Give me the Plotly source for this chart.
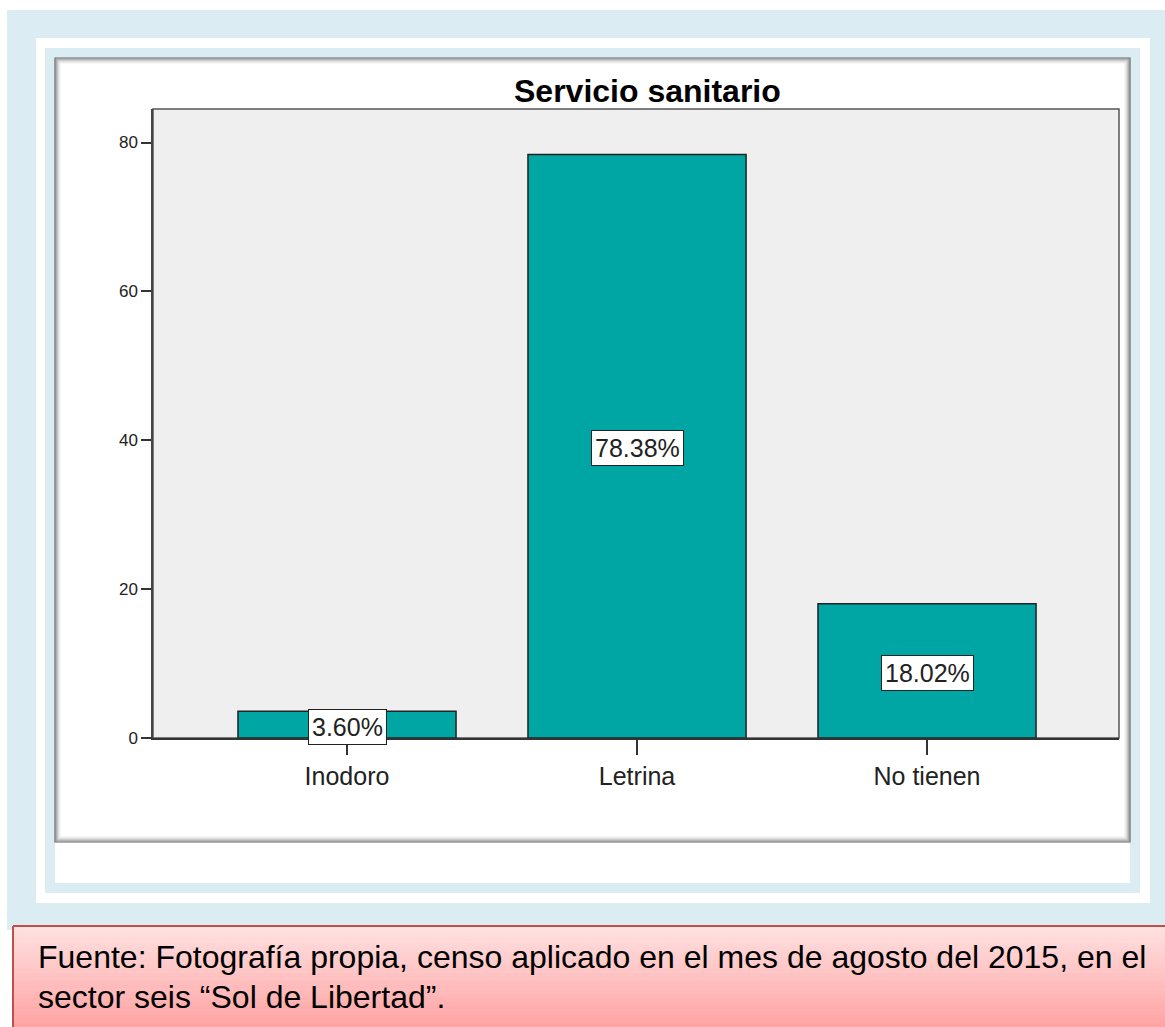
import plotly.graph_objects as go

categories = ["Inodoro", "Letrina", "No tienen"]
percentages = [3.60, 78.38, 18.02]
y_ticks = [0, 20, 40, 60, 80]
title_text = "Servicio sanitario"
source_lines = [
    "Fuente: Fotografía propia, censo aplicado en el mes de agosto del 2015, en el",
    "sector seis “Sol de Libertad”.",
]

W, H = 1165, 1027
# plot area in page pixels
PL, PR, PT, PB = 153, 1119, 109, 738
FONT = "Liberation Sans, Arial, sans-serif"
BAR_COLOR = "#00a6a4"
LIGHT_BLUE = "#dbecf2"


def px(x):
    return (x - PL) / (PR - PL)


def py(y):
    return (PB - y) / (PB - PT)


def rect(x0, y0, x1, y1, fill=None, line=None, width=0):
    return dict(
        type="rect", xref="paper", yref="paper", layer="below",
        x0=px(x0), x1=px(x1), y0=py(y1), y1=py(y0),
        fillcolor=fill or "rgba(0,0,0,0)",
        line=dict(color=line or "rgba(0,0,0,0)", width=width),
    )


shapes = [
    rect(7, 10, W, 930, fill=LIGHT_BLUE),
    rect(36, 38, 1150, 903, fill="white"),
    rect(45, 48, 1140, 893, fill=LIGHT_BLUE),
    rect(55, 58, 1130, 883, fill="white"),
]
# inner shadow of the chart frame
for i, c in enumerate(["#666", "#888", "#a8a8a8", "#c4c4c4", "#dcdcdc", "#eeeeee"]):
    shapes.append(rect(55 + i, 58 + i, 1130 - i, 842 - i, line=c, width=1.2))

# plot area background
shapes.append(rect(PL, PT, PR, PB, fill="#efefef", line="#555", width=1.5))

# pink source box with vertical gradient
n_bands = 24
top_rgb, bot_rgb = (255, 224, 224), (255, 164, 164)
for i in range(n_bands):
    t = i / (n_bands - 1)
    c = tuple(round(a + (b - a) * t) for a, b in zip(top_rgb, bot_rgb))
    y0 = 926 + (1027 - 926) * i / n_bands
    y1 = 926 + (1027 - 926) * (i + 1) / n_bands + 0.5
    shapes.append(rect(13, y0, W, y1, fill="rgb(%d,%d,%d)" % c))
shapes.append(dict(type="line", xref="paper", yref="paper", layer="below",
                   x0=px(13), x1=px(W), y0=py(926), y1=py(926),
                   line=dict(color="#c0504d", width=2)))
shapes.append(dict(type="line", xref="paper", yref="paper", layer="below",
                   x0=px(13), x1=px(13), y0=py(926), y1=py(1030),
                   line=dict(color="#c0504d", width=2)))

fig = go.Figure(go.Bar(
    x=categories, y=percentages,
    width=0.752,
    marker=dict(color=BAR_COLOR, line=dict(color="#222", width=1.5)),
    hoverinfo="skip",
))

annotations = [
    dict(x=px(647), y=py(91), xref="paper", yref="paper", text=f"<b>{title_text}</b>",
         showarrow=False, font=dict(family=FONT, size=32, color="black"),
         xanchor="center", yanchor="middle"),
]
for cat, v in zip(categories, percentages):
    annotations.append(dict(
        x=cat, y=v / 2, xref="x", yref="y", text=f"{v:.2f}%", showarrow=False,
        yshift=-2, bgcolor="white", bordercolor="#222", borderwidth=1, borderpad=3,
        font=dict(family=FONT, size=25, color="#222"),
    ))
for i, line in enumerate(source_lines):
    annotations.append(dict(
        x=px(36), y=py(957 + 40 * i), xref="paper", yref="paper", text=line,
        showarrow=False, xanchor="left", yanchor="middle",
        font=dict(family=FONT, size=32, color="black"),
    ))

fig.update_layout(
    width=W, height=H,
    margin=dict(l=PL, r=W - PR, t=PT, b=H - PB, pad=0),
    paper_bgcolor="white", plot_bgcolor="rgba(0,0,0,0)",
    showlegend=False, shapes=shapes, annotations=annotations,
    font=dict(family=FONT, color="#222"),
)
fig.update_xaxes(
    range=[-0.669, 2.662], showgrid=False, zeroline=False,
    showline=True, linecolor="#333", linewidth=1.5,
    ticks="outside", ticklen=15, tickwidth=1.5, tickcolor="#333",
    tickfont=dict(family=FONT, size=25, color="#222"),
)
fig.update_yaxes(
    range=[0, 84.5], tickvals=y_ticks, showgrid=False, zeroline=False,
    showline=True, linecolor="#444", linewidth=1.5,
    ticks="outside", ticklen=10, tickwidth=1.5, tickcolor="#333",
    tickfont=dict(family=FONT, size=17, color="#222"),
)

fig.write_html("out.html", config={"displayModeBar": False},
               post_script="document.body.style.margin='0';")
